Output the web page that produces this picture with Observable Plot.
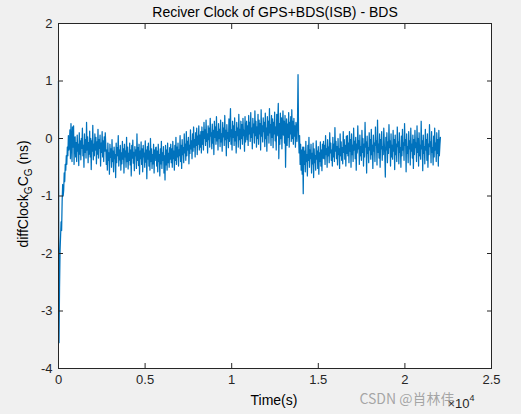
<!DOCTYPE html>
<html><head><meta charset="utf-8">
<script src="https://cdn.jsdelivr.net/npm/d3@7"></script>
<script src="https://cdn.jsdelivr.net/npm/@observablehq/plot@0.6"></script>
<style>
html,body{margin:0;padding:0;background:#f0f0f0;}
#wrap{position:relative;width:521px;height:414px;overflow:hidden;}
</style></head><body><div id="wrap"></div>
<script>
// sampling interval of the series (s)
const timeStep = 30;
// receiver clock difference (ns), one value per sample
const clockDiff = [
 1.00, -3.55, -2.60, -1.95, -1.70, -1.45, -1.60, -1.10, -0.80, -1.00, -0.90, -0.60, -0.75, -0.45, -0.55, -0.30,
 -0.45, -0.15, -0.30, 0.05, -0.20, -0.10, 0.15, -0.35, 0.26, -0.05, -0.40, 0.20, -0.15, 0.22, -0.45, 0.00,
 0.03, -0.32, -0.07, -0.40, 0.06, -0.22, -0.10, -0.47, 0.10, -0.27,
 -0.04, -0.37, 0.00, -0.17, 0.18, -0.30, -0.12, -0.50, 0.08, -0.24,
 -0.02, -0.34, 0.28, -0.20, 0.03, -0.42, -0.07, -0.27, 0.13, -0.32,
 0.00, -0.54, -0.04, -0.22, 0.23, -0.37, -0.10, -0.30, 0.08, -0.20,
 0.02, -0.44, -0.06, -0.27, 0.16, -0.34, -0.02, -0.17, 0.06, -0.48,
 -0.08, -0.24, 0.12, -0.32, -0.04, -0.40, 0.03, -0.22, 0.10,
 -0.12, -0.45, -0.20, -0.55, -0.08, -0.38, -0.25, -0.62, -0.10, -0.33,
 -0.18, -0.50, -0.02, -0.40, -0.22, -0.58, -0.15, -0.35, -0.28, -0.68,
 -0.08, -0.42, -0.16, -0.30, 0.05, -0.48, -0.20, -0.37, -0.12, -0.55,
 -0.25, -0.44, -0.05, -0.36, -0.18, -0.60, -0.10, -0.32, -0.22, -0.50,
 0.02, -0.40, -0.15, -0.53, -0.26, -0.38, -0.08, -0.46, -0.20, -0.65,
 -0.12, -0.34, -0.03, -0.43, -0.24, -0.56, -0.14, -0.30, -0.20, -0.52,
 0.08, -0.38, -0.16, -0.47, -0.10, -0.62, -0.22, -0.35, -0.06, -0.45,
 -0.18, -0.58, -0.12, -0.32, -0.26, -0.50, -0.04, -0.41, -0.20, -0.70,
 -0.14, -0.36, -0.08, -0.48, -0.22, -0.55, 0.00, -0.40, -0.18, -0.52,
 -0.28, -0.44, -0.10, -0.60, -0.20, -0.38, -0.16,
 -0.15, -0.48, -0.22, -0.58, -0.10, -0.40, -0.28, -0.65, -0.18, -0.44,
 -0.05, -0.52, -0.25, -0.38, -0.14, -0.60, -0.30, -0.72, -0.12, -0.46,
 -0.20, -0.55, -0.08, -0.42, -0.26, -0.50, -0.16, -0.36,
 -0.10, -0.42, -0.18, -0.50, -0.05, -0.35, -0.22, -0.55, -0.12, -0.38,
 0.02, -0.45, -0.15, -0.32, -0.08, -0.48, -0.20, -0.30, 0.05, -0.40,
 -0.12, -0.52, -0.02, -0.28, -0.16, -0.42, 0.08, -0.25, -0.10, -0.38,
 0.12, -0.30, -0.05, -0.20, 0.02, -0.44, -0.12, -0.26, 0.15, -0.18,
 -0.04, -0.35, 0.08, -0.22, 0.20, -0.15, -0.02, -0.32, 0.10, -0.12,
 0.18, -0.28, 0.04, -0.10, 0.22, -0.20, 0.06, -0.15, 0.12, -0.25,
 0.20, -0.10, 0.12, -0.20, 0.28, 0.00, 0.15, -0.12, 0.32, -0.05,
 0.08, -0.25, 0.22, -0.02, 0.18, -0.15, 0.35, 0.04, 0.10, -0.18,
 0.25, -0.08, 0.14, -0.28, 0.30, 0.02, 0.20, -0.10, 0.38, -0.04,
 0.12, -0.20, 0.26, 0.00, 0.16, -0.14, 0.32, -0.06, 0.08, -0.22,
 0.28, 0.03, 0.18, -0.12, 0.40, -0.02, 0.14, -0.30, 0.24, 0.00,
 0.10, -0.16, 0.34, -0.05, 0.20, 0.52, -0.10, 0.15, -0.20, 0.30,
 0.02, 0.22, -0.12, 0.36, -0.04, 0.12, -0.25, 0.28, 0.05, 0.18,
 -0.15, 0.42, -0.02, 0.16, -0.18, 0.30, 0.00, 0.24, -0.10, 0.35,
 0.05, 0.14, -0.22, 0.38, -0.06, 0.20,
 0.30, -0.02, 0.22, -0.12, 0.40, 0.08, 0.28, -0.05, 0.45, 0.02,
 0.18, -0.18, 0.35, 0.10, 0.25, -0.08, 0.48, 0.05, 0.30, -0.15,
 0.20, 0.00, 0.42, -0.10, 0.32, 0.08, 0.26, -0.20, 0.50, 0.04,
 0.22, -0.06, 0.36, 0.12, 0.28, -0.14, 0.44, 0.00, 0.18, -0.22,
 0.38, 0.06, 0.30, -0.08, 0.52, 0.10, 0.24, -0.12, 0.40, 0.02,
 0.34, -0.16, 0.28, 0.08, 0.46, -0.04, 0.20, -0.20, 0.42, 0.05,
 0.32, 0.61, -0.35, 0.26, -0.10, 0.44, 0.00, 0.36, -0.18, 0.22,
 0.48, 0.06, 0.30, -0.08, 0.40, -0.50, 0.15, 0.34, -0.12, 0.25,
 0.02, 0.45, -0.15, 0.28, 0.08, 0.38, -0.05, 0.50, 0.00, 0.30,
 -0.10, 0.35, 0.04, 0.22, -0.15, 0.28,
 0.20, -0.05, 0.30, 1.11, 0.10, -0.25, 0.05, -0.45, -0.10, -0.55, -0.20, -0.62, -0.15, -0.96,
 -0.15, -0.45, -0.22, -0.58, -0.05, -0.40, -0.28, -0.65, -0.12, -0.38,
 0.02, -0.50, -0.20, -0.35, -0.10, -0.60, -0.26, -0.44, -0.08, -0.68,
 -0.18, -0.42, -0.30, -0.55, -0.04, -0.36, -0.22, -0.52, -0.14, -0.62,
 -0.25, -0.40, -0.06, -0.48, -0.20, -0.56, -0.10, -0.34,
 -0.05, -0.35, -0.12, -0.45, 0.05, -0.28, -0.18, -0.50, -0.02, -0.30,
 -0.15, -0.42, 0.10, -0.25, -0.08, -0.38, -0.20, -0.48, 0.02, -0.32,
 -0.10, -0.40, 0.19, -0.22, -0.05, -0.35, -0.14, -0.46, 0.00, -0.28,
 -0.18, -0.52, 0.08, -0.30, -0.06, -0.38, -0.16, -0.44, 0.12, -0.24,
 -0.02, -0.36, -0.12, -0.48, 0.04, -0.26,
 0.05, -0.30, -0.08, -0.42, 0.12, -0.22, -0.02, -0.50, 0.08, -0.28,
 -0.12, -0.40, 0.18, -0.20, -0.05, -0.35, 0.02, -0.55, -0.10, -0.25,
 0.22, -0.18, -0.04, -0.45, 0.06, -0.30, -0.14, -0.38, 0.14, -0.24,
 0.00, -0.48, -0.10, -0.32, 0.28, -0.15, -0.06, -0.60, 0.04, -0.26,
 -0.16, -0.42, 0.10, -0.20, -0.02, -0.36, 0.16, -0.28, -0.12, -0.52,
 0.06, -0.22, -0.08, -0.40, 0.20, -0.12, -0.04, -0.46, 0.32, -0.24,
 -0.10, -0.34, 0.08, -0.50, -0.02, -0.18, 0.12, -0.38, -0.14, -0.28,
 0.18, -0.08, -0.30, -0.67, 0.02, -0.20, 0.10, -0.42, -0.06, -0.26,
 0.24, -0.16, -0.04, -0.48, 0.08, -0.32, -0.12, -0.36, 0.14, -0.22,
 -0.02, -0.54, 0.06, -0.28, -0.10, -0.40, 0.20, -0.14, -0.06, -0.44,
 0.10, -0.24, -0.16, -0.50, 0.04, -0.30, 0.16, -0.20, -0.08, -0.38,
 0.26, -0.12, -0.02, -0.58, 0.08, -0.26, -0.14, -0.42, 0.12, -0.18,
 -0.04, -0.46, 0.18, -0.22, -0.10, -0.34, 0.06, -0.52, -0.02, -0.28,
 0.14, -0.16, -0.08, -0.40, 0.22, -0.24, 0.00, -0.48, 0.10, -0.30,
 -0.12, -0.36, 0.30, -0.18, -0.04, -0.56, 0.06, -0.26, -0.14, -0.44,
 0.16, -0.20, -0.02, -0.38, 0.08, -0.50, -0.10, -0.28, 0.24, -0.14,
 -0.06, -0.42, 0.12, -0.24, -0.16, -0.46, 0.04, -0.32, 0.18, -0.20,
 -0.08, -0.40, 0.10, -0.26, -0.02, -0.48, 0.14, -0.30, -0.12, 0.02
];
const xTicks = [0, 5000, 10000, 15000, 20000, 25000];
const xTickLabels = ["0", "0.5", "1", "1.5", "2", "2.5"];
const yTicks = [-4, -3, -2, -1, 0, 1, 2];
const titleText = "Reciver Clock of GPS+BDS(ISB) - BDS";
const xLabelText = "Time(s)";
const watermarkText = "CSDN @肖林伟";

const FONT = "'Liberation Sans', Arial, Helvetica, sans-serif";
const INK = "#262626";

const chart = Plot.plot({
  width: 521, height: 414,
  marginLeft: 58, marginRight: 30, marginTop: 23, marginBottom: 46,
  style: {background: "#f0f0f0", fontFamily: FONT, fontSize: "13px", color: INK},
  x: {domain: [0, 25000]},
  y: {domain: [-4, 2]},
  marks: [
    Plot.frame({fill: "white", stroke: null}),
    Plot.lineY(clockDiff, {x: (d, i) => i * timeStep, y: d => d, stroke: "#0072BD", strokeWidth: 1.25}),
    Plot.axisX(xTicks, {anchor: "bottom", tickSize: -5, tickPadding: 11, label: null,
      tickFormat: d => xTickLabels[xTicks.indexOf(d)], stroke: INK, fill: INK, fontSize: 13}),
    Plot.axisX(xTicks, {anchor: "top", tickSize: -5, text: null, label: null, stroke: INK}),
    Plot.axisY(yTicks, {anchor: "left", tickSize: -5, tickPadding: 11, label: null,
      tickFormat: d => String(d), stroke: INK, fill: INK, fontSize: 13}),
    Plot.axisY(yTicks, {anchor: "right", tickSize: -5, text: null, label: null, stroke: INK}),
    Plot.frame({stroke: INK, strokeWidth: 1})
  ]
});
document.getElementById("wrap").appendChild(chart);

const svg = d3.select(chart);
svg.append("text").attr("x", 275).attr("y", 17).attr("text-anchor", "middle")
  .attr("font-family", FONT).attr("font-size", 14).attr("fill", "#000").text(titleText);
svg.append("text").attr("x", 274).attr("y", 405).attr("text-anchor", "middle")
  .attr("font-family", FONT).attr("font-size", 14).attr("fill", "#000").text(xLabelText);

const yl = svg.append("text").attr("transform", "translate(28,194) rotate(-90)")
  .attr("text-anchor", "middle").attr("font-family", FONT).attr("font-size", 14).attr("fill", "#000");
yl.append("tspan").text("diffClock");
yl.append("tspan").attr("font-size", 10).attr("dy", 4).text("G");
yl.append("tspan").attr("dy", -4).text("C");
yl.append("tspan").attr("font-size", 10).attr("dy", 4).text("G");
yl.append("tspan").attr("dy", -4).text(" (ns)");

const ex = svg.append("text").attr("x", 461).attr("y", 408)
  .attr("font-family", FONT).attr("font-size", 13).attr("fill", INK);
ex.append("tspan").text("×10");
ex.append("tspan").attr("font-size", 9).attr("dy", -7).text("4");

svg.append("text").attr("x", 407).attr("y", 404)
  .attr("font-family", "'Noto Sans CJK SC', " + FONT).attr("font-size", 14)
  .attr("fill", "#8c8c8c").attr("fill-opacity", 0.75).text(watermarkText);
</script>
</body></html>
